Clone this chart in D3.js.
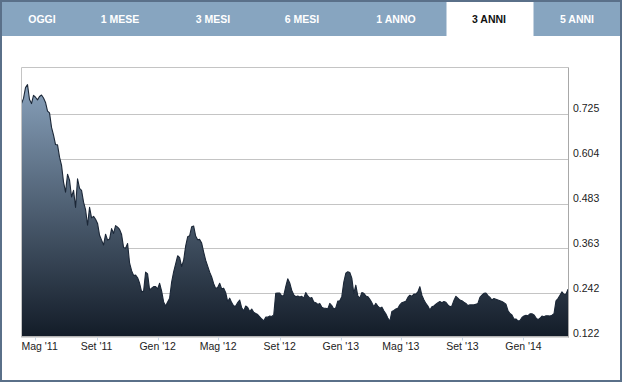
<!DOCTYPE html>
<html>
<head>
<meta charset="utf-8">
<script src="https://cdn.jsdelivr.net/npm/d3@7"></script>
<style>
body { margin: 0; background: #fff; }
svg { display: block; font-family: Arial, "Liberation Sans", sans-serif; }
</style>
</head>
<body>
<script>
// tab labels
const tabs = ['OGGI', '1 MESE', '3 MESI', '6 MESI', '1 ANNO', '3 ANNI', '5 ANNI'];
const activeTab = '3 ANNI';

// series: one close every 4 days from 4 Apr 2011
const startDay = new Date(2011, 3, 4);
const stepDays = 4;
const values = [
    0.752, 0.766, 0.795, 0.803, 0.763, 0.752, 0.774, 0.769, 0.762, 0.771,
    0.775, 0.767, 0.755, 0.732, 0.727, 0.688, 0.667, 0.642, 0.641, 0.608,
    0.586, 0.541, 0.514, 0.562, 0.546, 0.501, 0.519, 0.473, 0.550, 0.524,
    0.519, 0.487, 0.467, 0.425, 0.473, 0.445, 0.449, 0.441, 0.430, 0.398,
    0.385, 0.372, 0.401, 0.385, 0.388, 0.416, 0.403, 0.424, 0.420, 0.414,
    0.400, 0.365, 0.363, 0.376, 0.323, 0.303, 0.290, 0.291, 0.284, 0.269,
    0.246, 0.248, 0.299, 0.294, 0.251, 0.256, 0.260, 0.260, 0.254, 0.269,
    0.248, 0.219, 0.208, 0.219, 0.229, 0.272, 0.300, 0.321, 0.343, 0.338,
    0.314, 0.331, 0.369, 0.394, 0.397, 0.421, 0.423, 0.396, 0.386, 0.387,
    0.377, 0.353, 0.331, 0.315, 0.299, 0.286, 0.268, 0.255, 0.258, 0.269,
    0.254, 0.256, 0.244, 0.220, 0.229, 0.217, 0.208, 0.208, 0.217, 0.224,
    0.203, 0.195, 0.208, 0.204, 0.193, 0.200, 0.191, 0.188, 0.185, 0.179,
    0.173, 0.168, 0.178, 0.178, 0.181, 0.180, 0.184, 0.242, 0.243, 0.243,
    0.235, 0.236, 0.260, 0.281, 0.270, 0.250, 0.238, 0.233, 0.235, 0.232,
    0.234, 0.229, 0.244, 0.235, 0.229, 0.231, 0.219, 0.217, 0.212, 0.215,
    0.205, 0.202, 0.202, 0.200, 0.215, 0.209, 0.200, 0.203, 0.221, 0.222,
    0.233, 0.272, 0.296, 0.300, 0.298, 0.283, 0.242, 0.264, 0.235, 0.229,
    0.244, 0.242, 0.235, 0.233, 0.226, 0.217, 0.206, 0.215, 0.208, 0.202,
    0.205, 0.195, 0.187, 0.176, 0.167, 0.193, 0.196, 0.200, 0.202, 0.211,
    0.217, 0.219, 0.221, 0.231, 0.237, 0.234, 0.240, 0.240, 0.246, 0.260,
    0.237, 0.225, 0.215, 0.208, 0.197, 0.206, 0.208, 0.213, 0.217, 0.220,
    0.217, 0.220, 0.218, 0.211, 0.206, 0.208, 0.223, 0.234, 0.229, 0.224,
    0.222, 0.218, 0.215, 0.209, 0.211, 0.211, 0.211, 0.213, 0.215, 0.231,
    0.237, 0.242, 0.243, 0.236, 0.231, 0.224, 0.228, 0.226, 0.224, 0.222,
    0.220, 0.217, 0.213, 0.196, 0.188, 0.184, 0.173, 0.173, 0.168, 0.169,
    0.177, 0.181, 0.183, 0.182, 0.187, 0.187, 0.184, 0.176, 0.171, 0.175,
    0.181, 0.179, 0.182, 0.182, 0.181, 0.183, 0.187, 0.222, 0.228, 0.237,
    0.246, 0.239, 0.240, 0.253
];

// axis ticks
const yTicks = [0.122, 0.242, 0.363, 0.483, 0.604, 0.725];
const xTickDates = ['2011-05-01', '2011-09-01', '2012-01-01', '2012-05-01', '2012-09-01',
    '2013-01-01', '2013-05-01', '2013-09-01', '2014-01-01'];
const xTickLabels = ["Mag '11", "Set '11", "Gen '12", "Mag '12", "Set '12",
    "Gen '13", "Mag '13", "Set '13", "Gen '14"];

const W = 624, H = 384;
// plot box
const pL = 21.5, pR = 568.5, pT = 67.5, pB = 336.5;
// tab bar
const tabH = 34
const tabCenters = [42, 120, 213, 302, 396, 489, 577];
const activeX0 = 446.5, activeX1 = 533.5;

const data = values.map((v, i) => ({ date: d3.timeDay.offset(startDay, i * stepDays), value: v }));
const parseDay = d3.timeParse('%Y-%m-%d');

const svg = d3.select('body').append('svg')
    .attr('width', W)
    .attr('height', H);

// tab bar
svg.append('rect')
    .attr('x', 2).attr('y', 2)
    .attr('width', W - 5).attr('height', tabH)
    .attr('fill', '#87a5c0');
svg.append('rect')
    .attr('x', activeX0).attr('y', 2)
    .attr('width', activeX1 - activeX0).attr('height', tabH + 1)
    .attr('fill', '#fff');
svg.selectAll('text.tab')
    .data(tabs)
    .enter()
    .append('text')
    .attr('class', 'tab')
    .attr('x', (d, i) => tabCenters[i])
    .attr('y', 22.5)
    .attr('text-anchor', 'middle')
    .attr('font-size', '10.5px')
    .attr('font-weight', 'bold')
    .attr('fill', d => d === activeTab ? '#111' : '#fff')
    .text(d => d);

// outer border
svg.append('rect')
    .attr('x', 1).attr('y', 1)
    .attr('width', W - 4).attr('height', H - 4)
    .attr('fill', 'none')
    .attr('stroke', '#5a7089')
    .attr('stroke-width', 2);

const x = d3.scaleTime()
    .domain(d3.extent(data, d => d.date))
    .range([pL, pR - 0.5]);

const y = d3.scaleLinear()
    .domain([0.122, 0.849])
    .range([338, pT]);

// grid lines
svg.selectAll('line.grid')
    .data(yTicks.filter(t => y(t) < pB - 1))
    .enter()
    .append('line')
    .attr('class', 'grid')
    .attr('x1', pL).attr('x2', pR)
    .attr('y1', d => Math.round(y(d)) + 0.5)
    .attr('y2', d => Math.round(y(d)) + 0.5)
    .attr('stroke', '#c4c4c4');

// gradient for the area
const grad = svg.append('defs').append('linearGradient')
    .attr('id', 'fillGrad')
    .attr('gradientUnits', 'userSpaceOnUse')
    .attr('x1', 0).attr('y1', pT)
    .attr('x2', 0).attr('y2', pB);
grad.append('stop').attr('offset', 0).attr('stop-color', '#8fa9c4');
grad.append('stop').attr('offset', 1).attr('stop-color', '#131c28');

svg.append('path')
    .datum(data)
    .attr('fill', 'url(#fillGrad)')
    .attr('d', d3.area()
        .x(d => x(d.date))
        .y0(pB)
        .y1(d => y(d.value)));

svg.append('path')
    .datum(data)
    .attr('fill', 'none')
    .attr('stroke', '#1b2737')
    .attr('stroke-width', 1.1)
    .attr('stroke-linejoin', 'round')
    .attr('d', d3.line()
        .x(d => x(d.date))
        .y(d => y(d.value)));

// plot frame
svg.append('line')
    .attr('x1', pL).attr('x2', pR).attr('y1', pT).attr('y2', pT)
    .attr('stroke', '#c4c4c4');
svg.append('line')
    .attr('x1', pL).attr('x2', pL).attr('y1', pT).attr('y2', pB + 1)
    .attr('stroke', '#c4c4c4');
svg.append('line')
    .attr('x1', pR).attr('x2', pR).attr('y1', pT).attr('y2', pB + 1.5)
    .attr('stroke', '#a8a8a8');
svg.append('line')
    .attr('x1', pL).attr('x2', pR).attr('y1', pB).attr('y2', pB)
    .attr('stroke', '#b4b4b4');
svg.append('line')
    .attr('x1', pL).attr('x2', pR).attr('y1', pB + 1).attr('y2', pB + 1)
    .attr('stroke', '#dadada');

// y labels
svg.selectAll('text.ylab')
    .data(yTicks)
    .enter()
    .append('text')
    .attr('class', 'ylab')
    .attr('x', 573)
    .attr('y', d => y(d) - 1.5)
    .attr('font-size', '10.5px')
    .attr('fill', '#222')
    .text(d => d3.format('.3f')(d));

// x ticks and labels
const xt = xTickDates.map((d, i) => ({ date: parseDay(d), label: xTickLabels[i] }));

svg.selectAll('line.xtick')
    .data(xt)
    .enter()
    .append('line')
    .attr('class', 'xtick')
    .attr('x1', d => Math.round(x(d.date)) + 0.5)
    .attr('x2', d => Math.round(x(d.date)) + 0.5)
    .attr('y1', pB + 1).attr('y2', pB + 4)
    .attr('stroke', '#c8d6e4');

svg.selectAll('text.xlab')
    .data(xt)
    .enter()
    .append('text')
    .attr('class', 'xlab')
    .attr('y', 349.5)
    .attr('text-anchor', 'middle')
    .attr('font-size', '10.5px')
    .attr('fill', '#222')
    .text(d => d.label)
    .attr('x', function(d) {
        const w = this.getComputedTextLength();
        return Math.max(x(d.date), pL + w / 2);
    });
</script>
</body>
</html>
